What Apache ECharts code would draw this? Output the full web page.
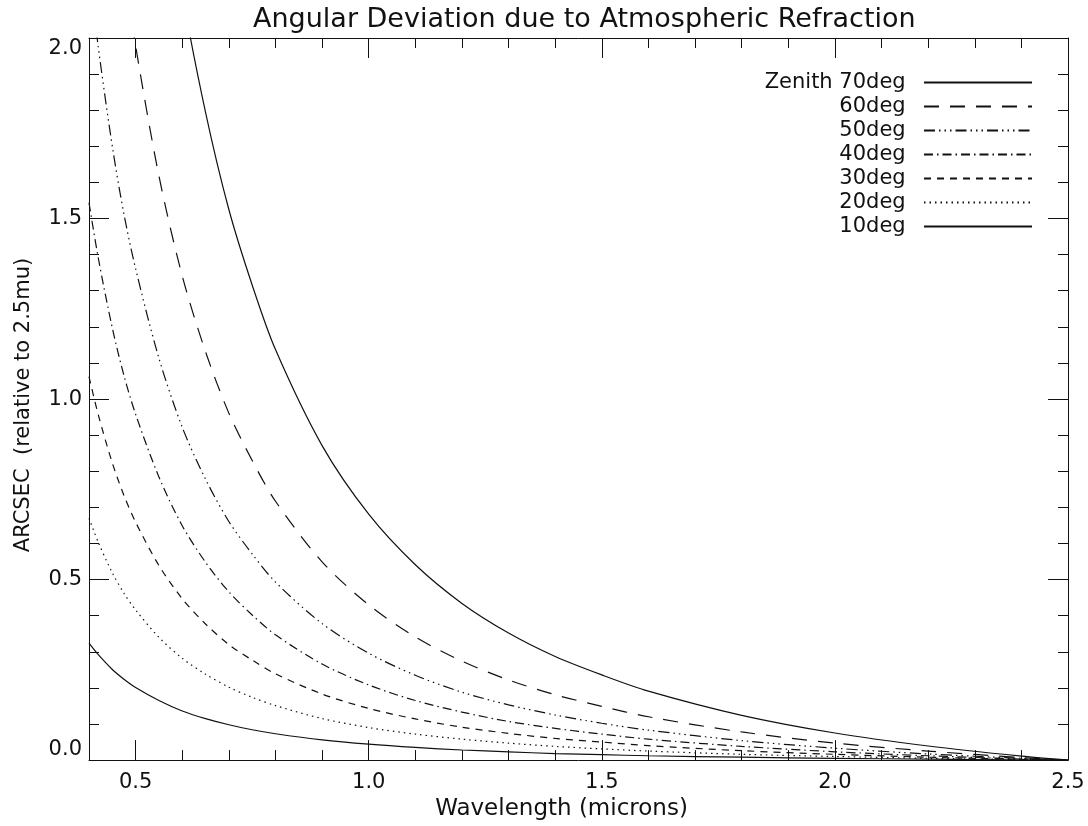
<!DOCTYPE html>
<html>
<head>
<meta charset="utf-8">
<script src="https://cdn.jsdelivr.net/npm/echarts@6/dist/echarts.min.js"></script>
<style>
  html, body { margin: 0; padding: 0; background: #fff; }
  #chart { width: 1088px; height: 826px; }
</style>
</head>
<body>
<div id="chart"></div>
<script>
// wavelength samples (microns)
var wavelength = [0.40, 0.42, 0.45, 0.475, 0.50, 0.55, 0.60, 0.65, 0.70, 0.75, 0.80, 0.90,
                  1.00, 1.10, 1.20, 1.30, 1.40, 1.50, 1.60, 1.80, 2.00, 2.20, 2.40, 2.50];

// arcsec relative to 2.5mu for each zenith angle
var z70 = [5.055, 4.550, 3.918, 3.487, 3.138, 2.566, 2.127, 1.794, 1.525, 1.316, 1.137, 0.871,
           0.681, 0.541, 0.434, 0.352, 0.287, 0.236, 0.191, 0.124, 0.075, 0.039, 0.011, 0];
var z60 = [3.187, 2.868, 2.470, 2.198, 1.978, 1.618, 1.341, 1.131, 0.961, 0.830, 0.717, 0.549,
           0.430, 0.341, 0.274, 0.222, 0.181, 0.149, 0.120, 0.078, 0.047, 0.025, 0.007, 0];
var z50 = [2.193, 1.974, 1.700, 1.512, 1.361, 1.113, 0.922, 0.778, 0.661, 0.571, 0.493, 0.378,
           0.296, 0.235, 0.188, 0.153, 0.125, 0.102, 0.083, 0.054, 0.033, 0.017, 0.005, 0];
var z40 = [1.544, 1.390, 1.197, 1.065, 0.958, 0.784, 0.649, 0.548, 0.466, 0.402, 0.347, 0.266,
           0.208, 0.165, 0.133, 0.107, 0.088, 0.072, 0.058, 0.038, 0.023, 0.012, 0.003, 0];
var z30 = [1.062, 0.956, 0.823, 0.733, 0.659, 0.539, 0.447, 0.377, 0.320, 0.277, 0.239, 0.183,
           0.143, 0.114, 0.091, 0.074, 0.060, 0.050, 0.040, 0.026, 0.016, 0.008, 0.002, 0];
var z20 = [0.670, 0.603, 0.519, 0.462, 0.416, 0.340, 0.282, 0.238, 0.202, 0.174, 0.151, 0.115,
           0.090, 0.072, 0.058, 0.047, 0.038, 0.031, 0.025, 0.016, 0.010, 0.005, 0.0015, 0];
var z10 = [0.324, 0.292, 0.251, 0.224, 0.201, 0.165, 0.136, 0.115, 0.098, 0.084, 0.073, 0.056,
           0.044, 0.035, 0.028, 0.023, 0.018, 0.015, 0.012, 0.008, 0.005, 0.0025, 0.0007, 0];

var seriesNames = ["Zenith 70deg", "60deg", "50deg", "40deg", "30deg", "20deg", "10deg"];
var xMajorTicks = [0.5, 1.0, 1.5, 2.0, 2.5];

var fontFamily = "DejaVu Sans";
var ink = "#111";

// dash patterns, like the IDL linestyles
var dashes = [
    "solid",
    [15, 11],
    [11, 4, 1.5, 4, 1.5, 4, 1.5, 4],
    [9, 4, 1.5, 4],
    [7, 6],
    [1.5, 4],
    "solid"
];

function pairs(ys) {
    return wavelength.map(function (x, i) { return [x, ys[i]]; });
}

function tickAxis(pos, major) {
    // one axis per side; major ones carry the long ticks, the others the short minor ticks
    var horiz = pos === "bottom" || pos === "top";
    return {
        type: "value",
        position: pos,
        min: horiz ? 0.4 : 0,
        max: horiz ? 2.5 : 2.0,
        splitLine: { show: false },
        axisLine: { show: major, onZero: false, lineStyle: { color: ink, width: 1 } },
        axisLabel: { show: false },
        axisTick: { show: true, inside: true, length: major ? 20 : 10, lineStyle: { color: ink, width: 1 } }
    };
}

var chart = echarts.init(document.getElementById("chart"), null, { renderer: "canvas" });

var xBottom = tickAxis("bottom", true);
xBottom.axisTick.customValues = xMajorTicks;
xBottom.axisLabel = {
    show: true,
    customValues: xMajorTicks,
    formatter: function (v) { return v.toFixed(1); },
    fontSize: 21,
    color: ink,
    fontFamily: fontFamily,
    margin: 12
};
xBottom.name = "Wavelength (microns)";
xBottom.nameLocation = "middle";
xBottom.nameGap = 34;
xBottom.nameTextStyle = { fontSize: 23, color: ink, fontFamily: fontFamily, padding: [0, 34, 0, 0] };

var xBottomMinor = tickAxis("bottom", false);
xBottomMinor.interval = 0.1;

var xTop = tickAxis("top", true);
xTop.axisTick.customValues = xMajorTicks;
var xTopMinor = tickAxis("top", false);
xTopMinor.interval = 0.1;

var yLeft = tickAxis("left", true);
yLeft.interval = 0.5;
yLeft.minorTick = { show: true, splitNumber: 5, length: 10, lineStyle: { color: ink, width: 1 } };
yLeft.axisLabel = {
    show: true,
    formatter: function (v) { return v.toFixed(1); },
    fontSize: 21,
    color: ink,
    fontFamily: fontFamily,
    margin: 7,
    verticalAlignMinLabel: "bottom",
    verticalAlignMaxLabel: "top"
};
yLeft.name = "ARCSEC  (relative to 2.5mu)";
yLeft.nameLocation = "middle";
yLeft.nameGap = 55;
yLeft.nameTextStyle = { fontSize: 21, color: ink, fontFamily: fontFamily, padding: [0, 12, 0, 0] };

var yRight = tickAxis("right", true);
yRight.interval = 0.5;
yRight.minorTick = { show: true, splitNumber: 5, length: 10, lineStyle: { color: ink, width: 1 } };

var allY = [z70, z60, z50, z40, z30, z20, z10];
var series = allY.map(function (ys, i) {
    return {
        name: seriesNames[i],
        type: "line",
        data: pairs(ys),
        symbol: "none",
        showSymbol: false,
        smooth: 0.3,
        clip: true,
        lineStyle: { color: ink, width: 1.2, type: dashes[i] },
        itemStyle: { color: ink }
    };
});

var option = {
    animation: false,
    backgroundColor: "#fff",
    title: {
        text: "Angular Deviation due to Atmospheric Refraction",
        left: 248,
        top: 1,
        textStyle: { fontSize: 27, fontWeight: "normal", color: ink, fontFamily: fontFamily }
    },
    legend: {
        orient: "vertical",
        right: 50,
        top: 67,
        align: "right",
        itemWidth: 108,
        itemHeight: 14,
        itemGap: 3,
        selectedMode: false,
        itemStyle: { opacity: 0 },
        formatter: function (name) { return name + "  "; },
        textStyle: { fontSize: 21, color: ink, fontFamily: fontFamily },
        data: seriesNames
    },
    grid: { left: 89, right: 20, top: 38, bottom: 64, containLabel: false },
    xAxis: [xBottom, xBottomMinor, xTop, xTopMinor],
    yAxis: [yLeft, yRight],
    series: series
};

chart.setOption(option);
</script>
</body>
</html>
